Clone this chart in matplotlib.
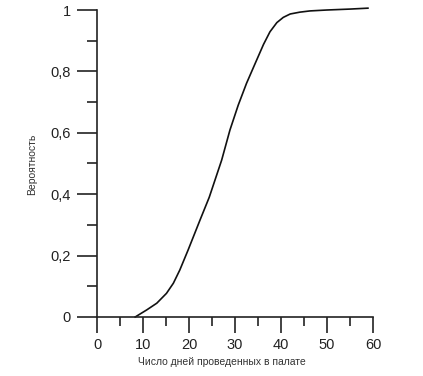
import matplotlib
matplotlib.use("Agg")
import matplotlib.pyplot as plt
from matplotlib.ticker import MultipleLocator

days = [8.3, 10.8, 13.0, 15.1, 16.6, 18.0, 19.8, 22.4, 24.4, 27.1, 28.9, 30.7,
        32.5, 34.3, 36.2, 37.6, 39.1, 40.5, 42.0, 44.1, 46.3, 50, 55, 58.9]
prob = [0, 0.023, 0.045, 0.077, 0.11, 0.153, 0.218, 0.316, 0.39, 0.511, 0.609,
        0.69, 0.761, 0.823, 0.888, 0.929, 0.959, 0.976, 0.987, 0.993, 0.997,
        1.0, 1.003, 1.006]

x_ticks = [0, 10, 20, 30, 40, 50, 60]
y_ticks = [0, 0.2, 0.4, 0.6, 0.8, 1]
y_tick_labels = ["0", "0,2", "0,4", "0,6", "0,8", "1"]

plt.rcParams['font.family'] = ['Liberation Sans', 'DejaVu Sans']

W, H = 423, 376
fig = plt.figure(figsize=(W / 100, H / 100), dpi=100)
ax = fig.add_axes([97 / W, (H - 317) / H, 276 / W, 307 / H])

ax.plot(days, prob, color='#111111', lw=1.2, clip_on=False,
        solid_joinstyle='round')

ax.set_xlim(0, 60)
ax.set_ylim(0, 1)
for s in ['top', 'right']:
    ax.spines[s].set_visible(False)
for s in ['left', 'bottom']:
    ax.spines[s].set_linewidth(1.2)
    ax.spines[s].set_color('#222222')

ax.set_xticks(x_ticks)
ax.set_xticklabels([str(v) for v in x_ticks])
ax.set_yticks(y_ticks)
ax.set_yticklabels(y_tick_labels)
ax.xaxis.set_minor_locator(MultipleLocator(5))
ax.yaxis.set_minor_locator(MultipleLocator(0.1))

ax.tick_params(axis='x', which='major', direction='out', length=11.5, width=1.2,
               labelsize=10.5, pad=3.5, colors='#222222')
ax.tick_params(axis='x', which='minor', direction='out', length=6.3, width=1.2,
               colors='#222222')
ax.tick_params(axis='y', which='major', direction='out', length=14.4, width=1.2,
               labelsize=10.5, pad=4.5, colors='#222222')
ax.tick_params(axis='y', which='minor', direction='out', length=7.2, width=1.2,
               colors='#222222')

fig.text(222 / W, 1 - 362 / H, "Число дней проведенных в палате",
         ha='center', va='center', fontsize=7.5, color='#333333')
fig.text(32 / W, 1 - 164 / H, "Вероятность", rotation=90,
         ha='center', va='center', fontsize=7.5, color='#333333')

fig.savefig("out.png", dpi=100)
